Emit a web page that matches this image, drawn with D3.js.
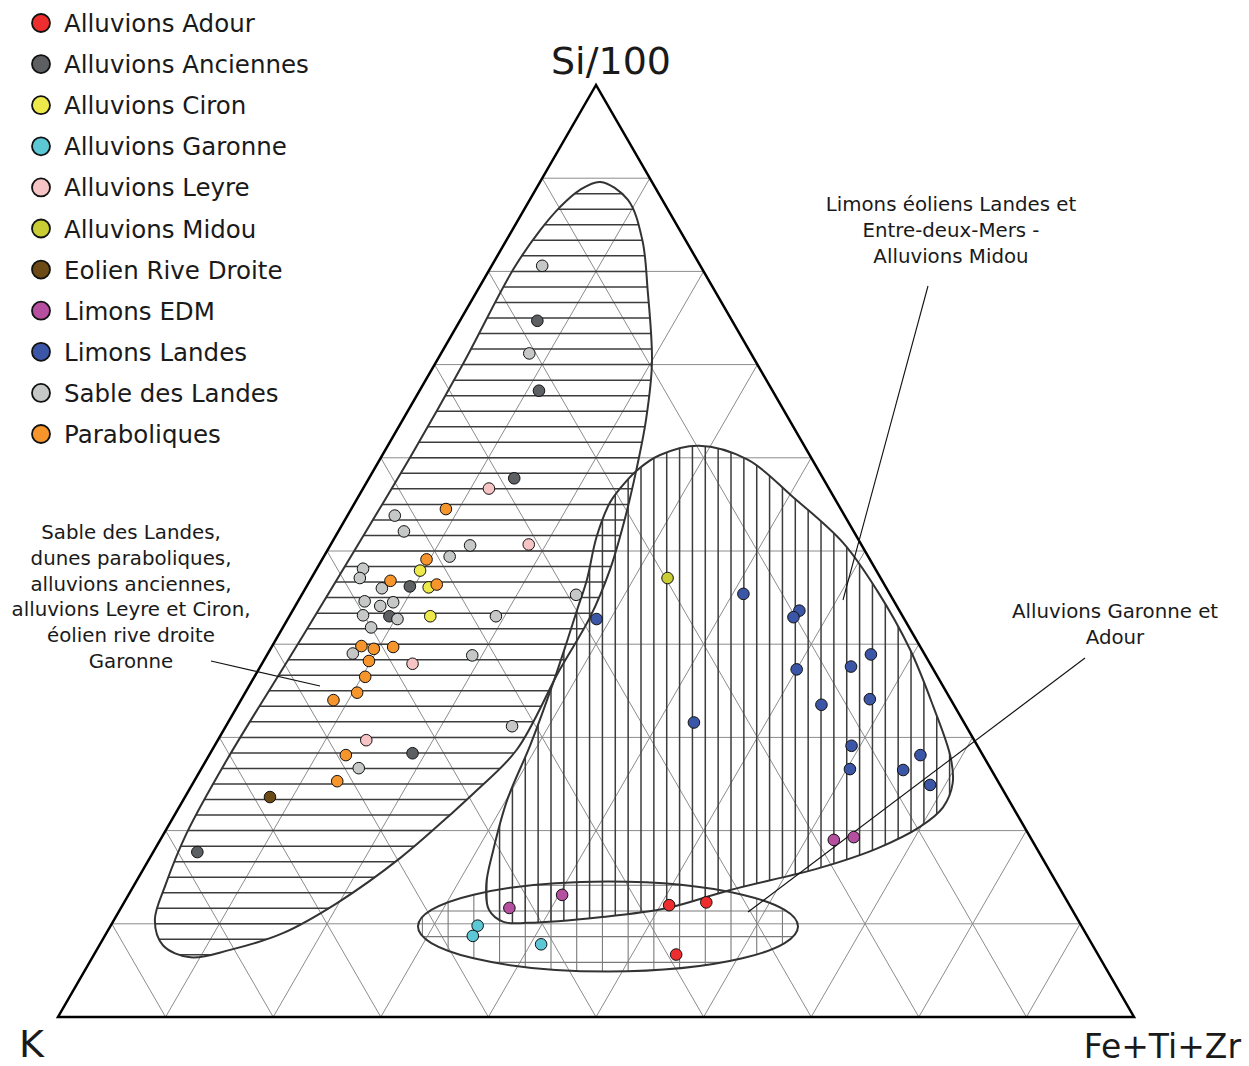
<!DOCTYPE html>
<html><head><meta charset="utf-8">
<script src="https://cdn.jsdelivr.net/npm/d3@7"></script>
<style>body{margin:0;background:#fff}svg{display:block}text{font-family:"DejaVu Sans",sans-serif;fill:#1a1a1a}</style>
</head><body><svg id="c" width="1249" height="1066"></svg>
<script>
// ---- DATA: each point is [K, Si/100, Fe+Ti+Zr] in percent ----
const seriesNames = ["Alluvions Adour","Alluvions Anciennes","Alluvions Ciron","Alluvions Garonne","Alluvions Leyre","Alluvions Midou","Eolien Rive Droite","Limons EDM","Limons Landes","Sable des Landes","Paraboliques"];
const seriesColors = ["#ee2e2e","#5d6063","#eee94a","#5cc7d5","#f6c4c4","#c9cc33","#6b4a16","#b64fa0","#3b56a6","#c6c7c7","#f5952c"];
const adour = [[37.2,12.0,50.8],[33.6,12.3,54.1],[39.2,6.7,54.1]];
const anciennes = [[18.1,74.7,7.2],[21.7,67.2,11.1],[28.7,57.8,13.5],[44.2,46.2,9.6],[47.7,43.0,9.3],[52.9,28.3,18.8],[78.2,17.7,4.1]];
const ciron = [[42.4,47.9,9.7],[42.5,46.1,11.4],[43.9,43.0,13.1]];
const garonne = [[56.1,9.8,34.1],[57.1,8.7,34.2],[51.2,7.8,41.0]];
const leyre = [[31.6,56.7,11.7],[30.9,50.7,18.4],[48.1,37.9,14.0],[56.5,29.7,13.8]];
const midou = [[19.8,47.1,33.1]];
const eolien = [[68.5,23.6,7.9]];
const limonsEDM = [[18.4,19.0,62.6],[16.4,19.3,64.3],[52.2,11.7,36.1],[46.6,13.1,40.3]];
const limonsLandes = [[28.6,42.7,28.7],[13.6,45.4,41.0],[9.3,43.6,47.1],[10.2,42.9,46.9],[5.0,38.9,56.1],[7.5,37.6,54.9],[12.7,37.3,50.0],[7.5,34.1,58.4],[12.3,33.5,54.2],[25.1,31.6,43.3],[11.7,29.1,59.2],[5.8,28.1,66.1],[13.1,26.6,60.3],[8.2,26.5,65.3],[6.5,24.9,68.6]];
const sableLandes = [[14.7,80.6,4.7],[20.6,71.2,8.2],[41.8,53.8,4.4],[41.8,52.1,6.1],[36.4,50.6,13.0],[38.9,49.4,11.7],[47.6,48.1,4.3],[48.4,47.1,4.5],[46.9,46.0,7.1],[29.2,45.3,25.5],[49.2,44.6,6.2],[46.6,44.5,8.9],[48.0,44.1,7.9],[50.1,43.1,6.8],[47.1,42.7,10.2],[37.8,43.0,19.2],[50.0,41.8,8.2],[53.1,39.0,7.9],[42.1,38.8,19.1],[42.2,31.2,26.6],[58.7,26.7,14.6]];
const paraboliques = [[36.7,54.5,8.8],[41.2,49.1,9.7],[45.7,46.8,7.5],[41.6,46.4,12.0],[51.9,39.8,8.3],[50.9,39.5,9.6],[49.0,39.7,11.3],[52.0,38.2,9.8],[53.2,36.5,10.3],[54.8,34.8,10.4],[57.4,34.0,8.6],[59.2,28.1,12.7],[61.4,25.3,13.3]];
const seriesData = [adour,anciennes,ciron,garonne,leyre,midou,eolien,limonsEDM,limonsLandes,sableLandes,paraboliques];

// ---- Field outlines, as [Si, Fe] in percent ----
const fieldSable = [[89.6,5.6],[87.7,9.1],[83.4,12.6],[78.0,15.8],[70.2,20.1],[64.1,22.6],[58.7,24.4],[53.3,26.0],[48.0,27.3],[42.9,28.0],[37.2,28.0],[28.7,28.3],[24.4,26.8],[21.7,25.6],[17.1,23.3],[12.2,19.8],[9.0,16.4],[7.2,12.4],[6.4,9.1],[7.7,5.9],[10.4,3.8],[14.2,2.9],[19.7,2.1],[27.6,1.9],[40.5,2.3],[60.5,2.7],[70.2,2.6],[80.2,2.2],[84.4,2.6],[86.9,3.2],[88.7,4.1]];
const fieldLimons = [[61.3,28.9],[59.8,34.2],[55.8,40.4],[50.9,47.5],[45.8,53.2],[39.4,59.5],[33.3,64.7],[27.9,69.0],[25.1,70.6],[22.5,71.0],[20.4,69.9],[18.1,67.1],[16.0,62.8],[13.6,55.6],[11.7,50.8],[10.7,45.0],[10.1,38.6],[10.2,36.3],[11.5,34.3],[14.2,32.7],[17.9,31.5],[23.3,30.1],[29.2,29.3],[35.8,28.1],[40.1,27.2],[43.7,26.4],[46.9,25.7],[51.5,24.3],[55.2,23.7],[56.8,23.9],[58.7,24.5],[60.3,25.8]];
const fieldAlluv = {si: 9.71, fe: 46.26, rx: 17.66, ry: 4.83};

const labels = {
  top: "Si/100", left: "K", right: "Fe+Ti+Zr",
  sable: ["Sable des Landes,","dunes paraboliques,","alluvions anciennes,","alluvions Leyre et Ciron,","éolien rive droite","Garonne"],
  limons: ["Limons éoliens Landes et","Entre-deux-Mers -","Alluvions Midou"],
  alluv: ["Alluvions Garonne et","Adour"]
};

// ---- DRAWING ----
const svg = d3.select("#c");
const xS = d3.scaleLinear().domain([0,100]).range([58,1134]);
const yS = d3.scaleLinear().domain([0,100]).range([1017,85]);
const P = (si, fe) => [xS(fe + si/2), yS(si)];
const line = d3.line();
const closed = d3.line().curve(d3.curveCatmullRomClosed.alpha(0.5));

// grid
const g = svg.append("g").attr("stroke","#8c8c8c").attr("stroke-width",1).attr("fill","none");
d3.range(10,100,10).forEach(v=>{
  g.append("path").attr("d", line([P(v,0),P(v,100-v)]));
  g.append("path").attr("d", line([P(0,v),P(100-v,v)]));
  g.append("path").attr("d", line([P(0,100-v),P(100-v,0)]));
});

const defs = svg.append("defs");
const sablePts = fieldSable.map(d=>P(d[0],d[1]));
const limPts = fieldLimons.map(d=>P(d[0],d[1]));
const ac = P(fieldAlluv.si, fieldAlluv.fe);
const arx = xS(fieldAlluv.rx) - xS(0), ary = yS(0) - yS(fieldAlluv.ry);
defs.append("clipPath").attr("id","cpS").append("path").attr("d", closed(sablePts));
defs.append("clipPath").attr("id","cpL").append("path").attr("d", closed(limPts));
defs.append("clipPath").attr("id","cpA").append("ellipse").attr("cx",ac[0]).attr("cy",ac[1]).attr("rx",arx).attr("ry",ary);

// lower ellipse hatch (square grid, every other vertical line)
const stepX = 1.195; // percent of base
const stepPx = xS(stepX)-xS(0);
const hA = svg.append("g").attr("clip-path","url(#cpA)").attr("stroke","#7a7a7a").attr("stroke-width",1.1);
d3.range(-46,46,2).forEach(n=>{
  const x = xS(50 + (n+0.5)*stepX);
  hA.append("line").attr("x1",x).attr("x2",x).attr("y1",0).attr("y2",1066);
});
d3.range(-4,4).forEach(n=>{
  const y = yS(10) + (n+0.5)*stepPx*2;
  hA.append("line").attr("x1",0).attr("x2",1249).attr("y1",y).attr("y2",y);
});

// horizontal hatch
const hS = svg.append("g").attr("clip-path","url(#cpS)").attr("stroke","#3c3c3c").attr("stroke-width",1.5);
d3.range(1,60).forEach(k=>{
  const y = yS(k*100/60);
  hS.append("line").attr("x1",0).attr("x2",1249).attr("y1",y).attr("y2",y);
});
// vertical hatch
const hL = svg.append("g").attr("clip-path","url(#cpL)").attr("stroke","#3c3c3c").attr("stroke-width",1.5);
d3.range(-45,45).forEach(n=>{
  const x = xS(50 + (n+0.5)*stepX);
  hL.append("line").attr("x1",x).attr("x2",x).attr("y1",0).attr("y2",1066);
});

// outlines
const o = svg.append("g").attr("fill","none").attr("stroke","#333").attr("stroke-width",2);
o.append("path").attr("d", closed(sablePts));
o.append("path").attr("d", closed(limPts));
o.append("ellipse").attr("cx",ac[0]).attr("cy",ac[1]).attr("rx",arx).attr("ry",ary);

// triangle
svg.append("path").attr("d", line([P(100,0),P(0,0),P(0,100)])+"Z")
  .attr("fill","none").attr("stroke","#000").attr("stroke-width",2.5).attr("stroke-linejoin","miter");

// leader lines
const ll = svg.append("g").attr("stroke","#111").attr("stroke-width",1.1);
ll.append("line").attr("x1",211).attr("y1",661).attr("x2",320).attr("y2",686);
ll.append("line").attr("x1",928).attr("y1",286).attr("x2",843).attr("y2",600);
ll.append("line").attr("x1",1085).attr("y1",658).attr("x2",748).attr("y2",912);

// points
const pts = svg.append("g");
seriesData.forEach((arr,i)=>{
  pts.selectAll(null).data(arr).enter().append("circle")
    .attr("cx",d=>P(d[1],d[2])[0]).attr("cy",d=>P(d[1],d[2])[1]).attr("r",5.8)
    .attr("fill",seriesColors[i]).attr("stroke","#111").attr("stroke-width",1);
});

// axis labels
svg.append("text").attr("x",611).attr("y",74).attr("text-anchor","middle").attr("font-size",38).text(labels.top);
svg.append("text").attr("x",19).attr("y",1057).attr("font-size",38).text(labels.left);
svg.append("text").attr("x",1241).attr("y",1058).attr("text-anchor","end").attr("font-size",33).text(labels.right);

// annotations
const ann = (arr,x,y0,dy)=>arr.forEach((t,i)=>svg.append("text").attr("x",x).attr("y",y0+i*dy).attr("text-anchor","middle").attr("font-size",19.8).text(t));
ann(labels.sable,131,539,25.8);
ann(labels.limons,951,211,26);
ann(labels.alluv,1115,618,25.5);

// legend
const lg = svg.append("g");
seriesNames.forEach((n,i)=>{
  const y = 23 + i*41.1;
  lg.append("circle").attr("cx",41).attr("cy",y).attr("r",9).attr("fill",seriesColors[i]).attr("stroke","#111").attr("stroke-width",1.8);
  lg.append("text").attr("x",64).attr("y",y+9).attr("font-size",24.5).text(n);
});
</script></body></html>
